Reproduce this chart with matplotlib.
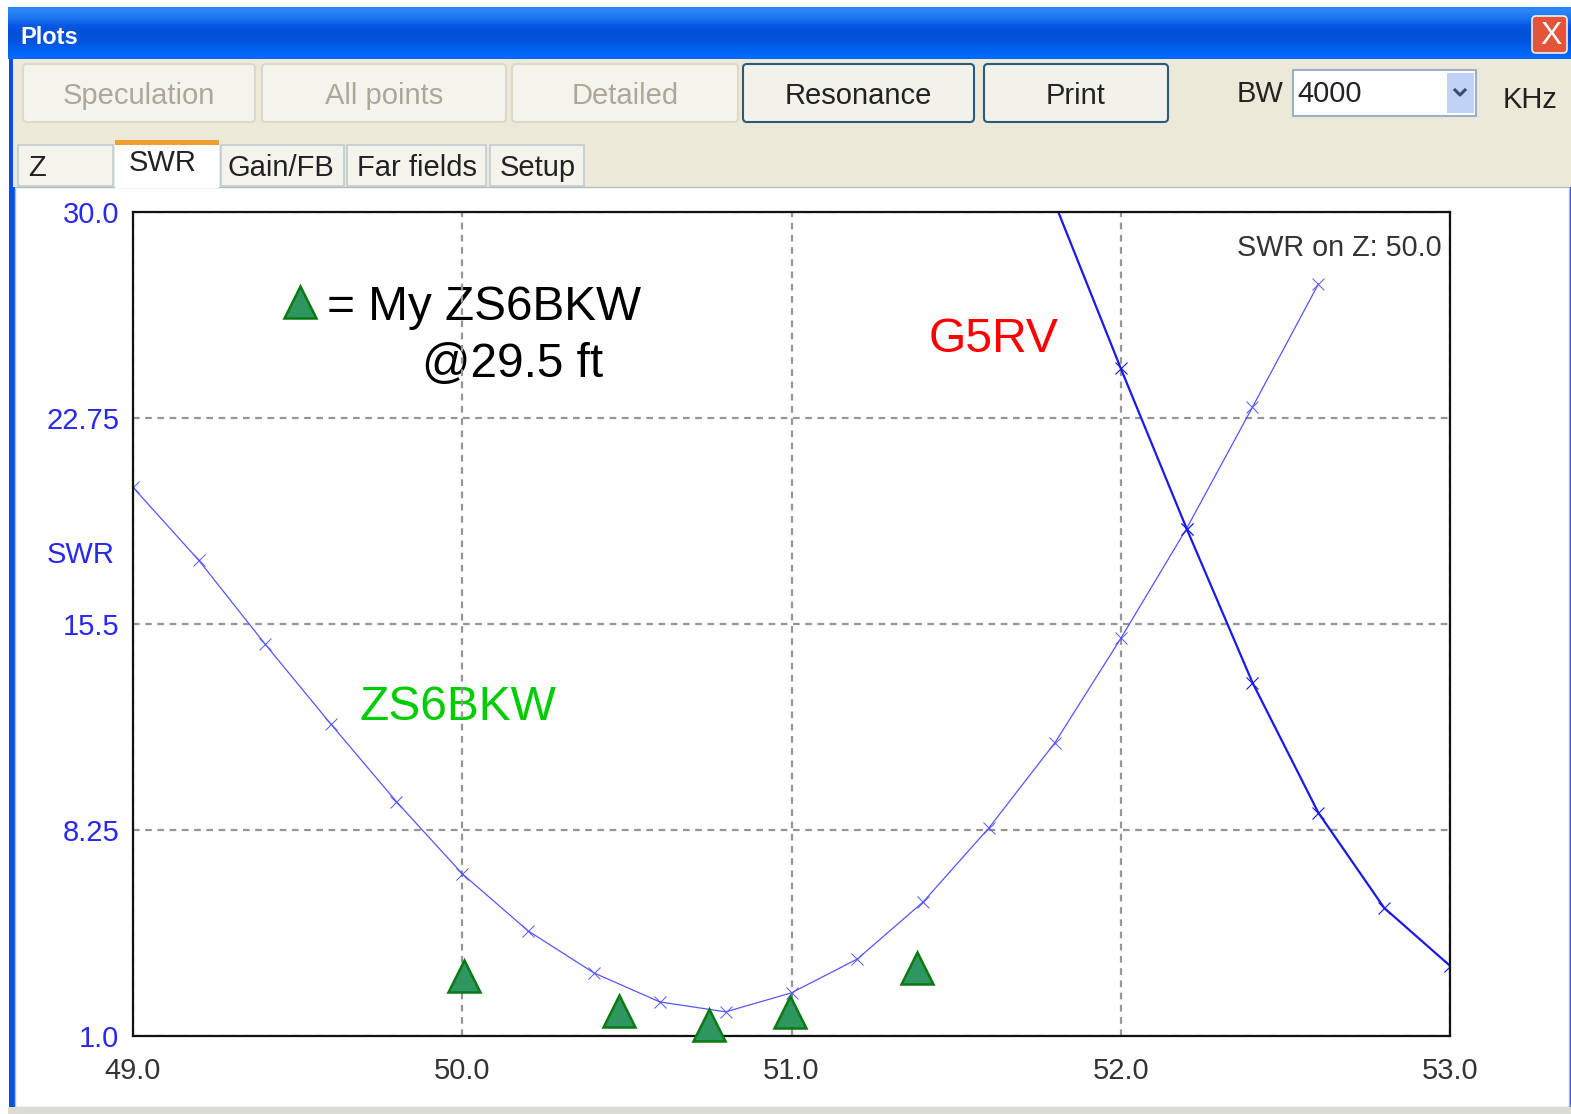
import numpy as np
import matplotlib
matplotlib.use('Agg')
import matplotlib.pyplot as plt
from matplotlib.patches import FancyBboxPatch, Rectangle

plt.rcParams['font.family'] = ['Liberation Sans', 'DejaVu Sans']

W, H = 1571, 1114

# 数値は画像から読み取り
freq = [49.0, 49.2, 49.4, 49.6, 49.8, 50.0, 50.2, 50.4, 50.6, 50.8,
        51.0, 51.2, 51.4, 51.6, 51.8, 52.0, 52.2, 52.4, 52.6]
swr_zs6bkw = [20.31, 17.74, 14.81, 11.99, 9.25, 6.71, 4.70, 3.22, 2.20, 1.85,
              2.52, 3.71, 5.72, 8.33, 11.32, 14.99, 18.86, 23.13, 27.46]
freq_g5rv = [51.8, 52.0, 52.2, 52.4, 52.6, 52.8, 53.0]
swr_g5rv = [30.3, 24.50, 18.86, 13.44, 8.86, 5.51, 3.47]
freq_mine = [50.005, 50.477, 50.75, 50.995, 51.38]
swr_mine = [3.11, 1.88, 1.40, 1.86, 3.38]
legend_x = [49.506]
legend_y = [26.84]

xticks = [49.0, 50.0, 51.0, 52.0, 53.0]
xlabels = ['49.0', '50.0', '51.0', '52.0', '53.0']
yticks = [1.0, 8.25, 15.5, 22.75, 30.0]
ylabels = ['1.0', '8.25', '15.5', '22.75', '30.0']

disabled_buttons = ['Speculation', 'All points', 'Detailed']
enabled_buttons = ['Resonance', 'Print']
tab_names = ['Z', 'SWR', 'Gain/FB', 'Far fields', 'Setup']

fig = plt.figure(figsize=(W / 100, H / 100), dpi=100, facecolor='white')

# ウィンドウ枠はピクセル座標で描く
bg = fig.add_axes([0, 0, 1, 1])
bg.set_xlim(0, W)
bg.set_ylim(H, 0)
bg.axis('off')


def button(x0, y0, x1, y1, face, edge, lw=1.5):
    bg.add_patch(FancyBboxPatch((x0 + 3, y0 + 3), x1 - x0 - 6, y1 - y0 - 6,
                                boxstyle='round,pad=3,rounding_size=4',
                                fc=face, ec=edge, lw=lw))


bg.add_patch(FancyBboxPatch((12, 11), W - 14, H - 14, boxstyle='round,pad=3,rounding_size=6',
                            fc='#0a50e0', ec='none'))
bg.add_patch(Rectangle((13, 59), W - 13, 128, fc='#ece9d8', ec='none'))
bg.add_patch(Rectangle((15, 187), W - 17, 920, fc='white', ec='#b4bcbc', lw=1))
bg.add_patch(Rectangle((8, 1107), W - 8, 7, fc='#dcdcd4', ec='none'))

# タイトルバー
grad = np.array([0.0, 0.1, 0.28, 0.5, 0.72, 0.88, 1.0]).reshape(-1, 1)
bar = plt.matplotlib.colors.LinearSegmentedColormap.from_list(
    'bar', ['#2a86f5', '#0a5ae6', '#0250d8', '#0254de', '#0068fa'])
bg.imshow(grad, extent=(8, W, 59, 7), aspect='auto', cmap=bar, interpolation='bilinear', zorder=1)
bg.set_xlim(0, W)
bg.set_ylim(H, 0)
bg.text(20, 37, 'Plots', color='white', fontsize=17, fontweight='bold', va='center', ha='left', zorder=3)
bg.add_patch(FancyBboxPatch((1534, 18), 31, 33, boxstyle='round,pad=2,rounding_size=4',
                            fc='#e2553a', ec='#f0f0f0', lw=1.2, zorder=3))
bg.text(1551, 36, 'X', color='white', fontsize=23, ha='center', va='center', zorder=4)

# ボタン
for name, x0, x1 in zip(disabled_buttons, [23, 262, 512], [255, 506, 738]):
    button(x0, 64, x1, 122, '#f4f3ec', '#dcd9ca')
    bg.text((x0 + x1) / 2, 96, name, color='#aca899', fontsize=21, ha='center', va='center')
for name, x0, x1 in zip(enabled_buttons, [743, 984], [974, 1168]):
    button(x0, 64, x1, 122, '#f2f2ea', '#2a5a80', lw=1.5)
    bg.text((x0 + x1) / 2, 96, name, color='#222222', fontsize=21, ha='center', va='center')

bg.text(1237, 94, 'BW', color='#222222', fontsize=21, ha='left', va='center')
bg.add_patch(Rectangle((1293, 70), 183, 46, fc='white', ec='#9ab0c8', lw=1.5))
bg.text(1297, 94, '4000', color='#222222', fontsize=21, ha='left', va='center')
bg.add_patch(Rectangle((1447, 73), 27, 40, fc='#c0d2f6', ec='none'))
bg.plot([1455, 1460, 1465], [90, 95, 90], color='#3a4f70', lw=2.2)
bg.text(1503, 100, 'KHz', color='#222222', fontsize=21, ha='left', va='center')

# タブ
tab_x = [(18, 113), (115, 219), (221, 344), (347, 486), (490, 584)]
tab_tx = [28, 129, 228, 357, 500]
for i, (name, (x0, x1), tx) in enumerate(zip(tab_names, tab_x, tab_tx)):
    if i == 1:
        bg.add_patch(Rectangle((x0, 144), x1 - x0, 44, fc='white', ec='none', zorder=2))
        bg.add_patch(Rectangle((x0, 140), x1 - x0, 5, fc='#f0a030', ec='none', zorder=2))
        bg.text(tx, 163, name, color='#222222', fontsize=21, ha='left', va='center', zorder=3)
    else:
        bg.add_patch(Rectangle((x0, 145), x1 - x0, 41, fc='#f4f3ec', ec='#c0ccd2', lw=1.2))
        bg.text(tx, 168, name, color='#222222', fontsize=21, ha='left', va='center')

# プロット本体
left, right, top, bottom = 133, 1450, 212, 1036
ax = fig.add_axes([left / W, 1 - bottom / H, (right - left) / W, (bottom - top) / H])
ax.patch.set_alpha(0)
ax.set_xlim(49.0, 53.0)
ax.set_ylim(1.0, 30.0)
ax.set_xticks(xticks)
ax.set_xticklabels(xlabels, color='#333333', fontsize=21)
ax.set_yticks(yticks)
ax.set_yticklabels(ylabels, color='#2828f0', fontsize=21)
ax.tick_params(axis='both', length=0)
ax.tick_params(axis='x', pad=15)
ax.tick_params(axis='y', pad=10)
ax.grid(True, color='#969696', linestyle=(0, (3, 2.5)), linewidth=1.6)
ax.set_axisbelow(True)
for s in ax.spines.values():
    s.set_color('#111111')
    s.set_linewidth(1.6)

ax.plot(freq, swr_zs6bkw, color='#5555ff', lw=0.9, marker='x', ms=8, mew=0.7)
ax.plot(freq_g5rv, swr_g5rv, color='#1a1ae8', lw=1.6, marker='x', ms=8, mew=0.8)
ax.plot(freq_mine, swr_mine, linestyle='none', marker='^', ms=23, mfc='#2e9660',
        mec='#0b7a12', mew=1.8, clip_on=False, zorder=5)
ax.plot(legend_x, legend_y, linestyle='none', marker='^', ms=23, mfc='#2e9660',
        mec='#0b7a12', mew=1.8, zorder=5)

bg.text(81, 555, 'SWR', color='#2828f0', fontsize=21, ha='center', va='center')
bg.text(1442, 248, 'SWR on Z: 50.0', color='#333333', fontsize=20.7, ha='right', va='center')
bg.text(327, 307, '= My ZS6BKW', color='black', fontsize=34.4, ha='left', va='center')
bg.text(422, 364, '@29.5 ft', color='black', fontsize=34.4, ha='left', va='center')
bg.text(929, 339, 'G5RV', color='#ff0000', fontsize=34.6, ha='left', va='center')
bg.text(360, 707, 'ZS6BKW', color='#00cc00', fontsize=34.6, ha='left', va='center')

fig.savefig('out.png', dpi=100)
plt.close(fig)
